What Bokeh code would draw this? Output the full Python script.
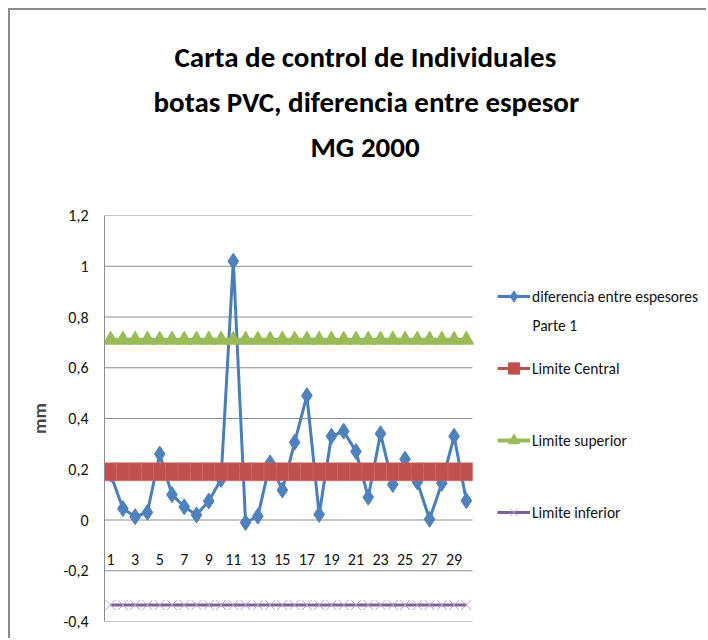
from bokeh.plotting import figure
from bokeh.models import Range1d, FixedTicker, Legend, LegendItem, Title, Label
from bokeh.core.properties import value
from bokeh.embed import file_html
from bokeh.resources import INLINE

# ---------------- data ----------------
samples = list(range(1, 31))
diferencia = [0.18, 0.045, 0.013, 0.03, 0.26, 0.10, 0.052, 0.02, 0.075, 0.16,
              1.02, -0.01, 0.015, 0.225, 0.118, 0.306, 0.49, 0.022, 0.33, 0.35,
              0.27, 0.09, 0.34, 0.14, 0.24, 0.15, 0.003, 0.145, 0.33, 0.076]
limite_central = 0.19
limite_superior = 0.71
limite_inferior = -0.335
y_ticks = [-0.4, -0.2, 0, 0.2, 0.4, 0.6, 0.8, 1.0, 1.2]
y_tick_labels = ["-0,4", "-0,2", "0", "0,2", "0,4", "0,6", "0,8", "1", "1,2"]
x_ticks = samples[::2]
x_tick_labels = [str(v) for v in x_ticks]
title_lines = ["Carta de control de Individuales",
               "botas PVC, diferencia entre espesor",
               "MG 2000"]
series_names = ["diferencia entre espesores", "Limite Central",
                "Limite superior", "Limite inferior"]
series_name_2nd_line = "Parte 1"
y_label = "mm"

# ---------------- style ----------------
FONT = "Carlito, Lato, sans-serif"
BLUE, BLUE_D = "#4F81BD", "#4A7EBB"
RED = "#C0504D"
GREEN = "#9BBB59"
PURPLE, PURPLE_L = "#7D60A0", "#B3A2C7"
GRID = "#8C8C8C"
TXT = "#111111"

W, H = 698, 630
ML, MR, MT, MB = 94, 2, 205, 19
PLOT_W = 368                     # width of the category area in px
n = len(samples)
cat_lo, cat_hi = samples[0] - 0.5, samples[-1] + 0.5
px_per_cat = PLOT_W / (cat_hi - cat_lo)
x_end = cat_lo + (W - ML - MR) / px_per_cat   # frame continues under the legend

lc = [limite_central] * n
ls = [limite_superior] * n
li = [limite_inferior] * n

p = figure(width=W, height=H, output_backend="svg", toolbar_location=None,
           x_range=Range1d(cat_lo, x_end), y_range=Range1d(y_ticks[0], y_ticks[-1]),
           x_axis_location=None,
           min_border_left=ML, min_border_right=MR,
           min_border_top=MT, min_border_bottom=MB)
p.styles = {"margin-left": "10px", "margin-top": "10px",
            "box-shadow": "-2px -2px 0 0 #8a8a8a"}
p.outline_line_color = None
p.background_fill_color = "white"
p.border_fill_color = "white"

# y axis
ax = p.yaxis[0]
ax.ticker = FixedTicker(ticks=y_ticks)
ax.major_label_overrides = {t: l for t, l in zip(y_ticks, y_tick_labels)}
ax.major_tick_out = 0
ax.major_tick_in = 0
ax.minor_tick_out = 0
ax.minor_tick_in = 0
ax.axis_line_color = GRID
ax.major_label_standoff = 16
ax.major_label_text_font = FONT
ax.major_label_text_font_size = "16px"
ax.major_label_text_color = TXT
ax.axis_label = y_label
ax.axis_label_text_font = FONT
ax.axis_label_text_font_style = "bold"
ax.axis_label_text_font_size = "19px"
ax.axis_label_standoff = 9
p.xgrid.visible = False
p.ygrid.visible = False

# horizontal gridlines across the category area only
p.segment(x0=[cat_lo] * len(y_ticks), x1=[cat_hi] * len(y_ticks),
          y0=y_ticks, y1=y_ticks, line_color=GRID, line_width=1)

# x tick labels sitting under the zero line
p.text(x=x_ticks, y=[0] * len(x_ticks), text=x_tick_labels,
       text_align="center", text_baseline="alphabetic", y_offset=39,
       text_font=value(FONT), text_font_size="16px", text_color=TXT)

# series 1
r_bl = p.line(samples, diferencia, line_color=BLUE_D, line_width=3)
r_bm = p.scatter(samples, diferencia, marker="diamond", size=16,
                 fill_color=BLUE, line_color=BLUE)

# central
r_rl = p.line(samples, lc, line_color=RED, line_width=3)
r_rm = p.scatter(samples, lc, marker="square", size=10, fill_color=RED, line_color=RED)
p.rect(samples, lc, width=1, height=18, height_units="screen",
       fill_color=RED, line_color="#C96A67", line_width=0.6)

# superior
r_gl = p.line(samples, ls, line_color=GREEN, line_width=4)
r_gm = p.scatter(samples, ls, marker="triangle", size=15,
                 fill_color=GREEN, line_color=GREEN)

# inferior
r_pl = p.line(samples, li, line_color=PURPLE, line_width=3)
r_pm = p.scatter(samples, li, marker="x", size=14, line_color=PURPLE_L, line_width=1)

legend = Legend(items=[
    LegendItem(label=series_names[0], renderers=[r_bl, r_bm]),
    LegendItem(label=series_names[1], renderers=[r_rl, r_rm]),
    LegendItem(label=series_names[2], renderers=[r_gl, r_gm]),
    LegendItem(label=series_names[3], renderers=[r_pl, r_pm]),
], location=(393, 95), orientation="vertical",
    glyph_width=33, glyph_height=28, label_height=28, label_standoff=2,
    spacing=44, padding=0, margin=0, border_line_color=None,
    background_fill_alpha=0, label_text_font=FONT, label_text_font_size="15.5px",
    label_text_color=TXT)
p.add_layout(legend)

p.add_layout(Label(x=428, y=296, x_units="screen", y_units="screen",
                   text=series_name_2nd_line, text_font=FONT,
                   text_font_size="15.5px", text_color=TXT,
                   text_baseline="alphabetic"))

# title: three centred lines stacked above the plot area (a blank spacer line first)
offsets = [70, 49, 206]
title_kw = dict(text_font=FONT, text_font_size="29px", text_font_style="bold",
                text_color="#000000")
p.add_layout(Title(text=" ", align="left", standoff=9, **title_kw), "above")
for txt, off in zip(reversed(title_lines), reversed(offsets)):
    p.add_layout(Title(text=txt, align="left", offset=off, standoff=7, **title_kw),
                 "above")

open("out.html", "w").write(file_html(p, INLINE))
